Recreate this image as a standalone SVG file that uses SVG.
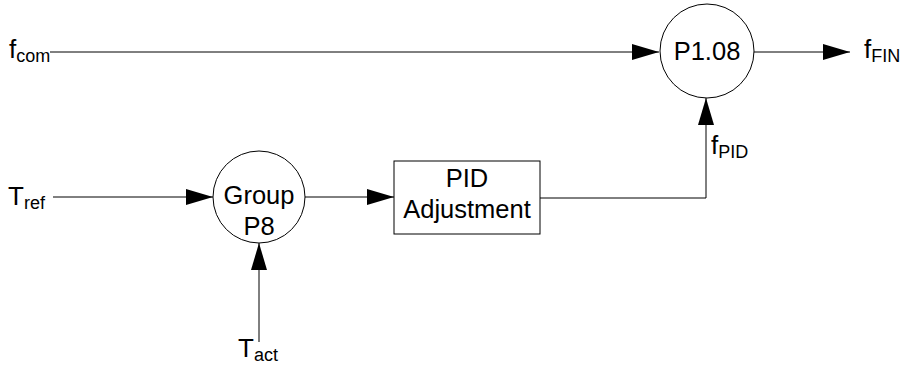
<svg xmlns="http://www.w3.org/2000/svg" width="900" height="367" viewBox="0 0 900 367">
<defs>
<style>
.ln{stroke:#000;stroke-width:1;fill:none}
.nd{stroke:#000;stroke-width:1;fill:#fff}
text{font-family:"Liberation Sans",Arial,sans-serif;fill:#000}
.big{font-size:25.5px}
.lb{font-size:26px}
.sub{font-size:18px}
</style>
<marker id="ah" markerUnits="userSpaceOnUse" markerWidth="28" markerHeight="17" refX="27" refY="8" orient="auto">
<path d="M0,0 L27,8 L0,16 z" fill="#000"/>
</marker>
</defs>
<g id="connectors">
<line class="ln" x1="50" y1="52" x2="659" y2="52" marker-end="url(#ah)"/>
<line class="ln" x1="754" y1="52" x2="850" y2="52" marker-end="url(#ah)"/>
<line class="ln" x1="53" y1="197" x2="213" y2="197" marker-end="url(#ah)"/>
<line class="ln" x1="305" y1="197" x2="394" y2="197" marker-end="url(#ah)"/>
<polyline class="ln" points="540,198 706,198 706,98" marker-end="url(#ah)"/>
<line class="ln" x1="259" y1="342" x2="259" y2="243" marker-end="url(#ah)"/>
</g>
<g id="n_p108">
<circle class="nd" cx="707" cy="51" r="47"/>
<text class="big" x="707" y="60" text-anchor="middle">P1.08</text>
</g>
<g id="n_group">
<circle class="nd" cx="259" cy="197" r="46"/>
<text class="big" x="259" y="204" text-anchor="middle">Group</text>
<text class="big" x="259" y="235" text-anchor="middle">P8</text>
</g>
<g id="n_pid">
<rect class="nd" x="394" y="161" width="146" height="73"/>
<text class="big" x="467" y="187" text-anchor="middle">PID</text>
<text class="big" x="467" y="218" text-anchor="middle">Adjustment</text>
</g>
<g id="l_fcom">
<text class="lb" x="9" y="58">f<tspan class="sub" dy="4">com</tspan></text>
</g>
<g id="l_ffin">
<text class="lb" x="864" y="58">f<tspan class="sub" dy="4">FIN</tspan></text>
</g>
<g id="l_tref">
<text class="lb" x="8" y="205">T<tspan class="sub" dy="4">ref</tspan></text>
</g>
<g id="l_tact">
<text class="lb" x="238" y="357">T<tspan class="sub" dy="4">act</tspan></text>
</g>
<g id="l_fpid">
<text class="lb" x="711" y="154">f<tspan class="sub" dy="4">PID</tspan></text>
</g>
</svg>
